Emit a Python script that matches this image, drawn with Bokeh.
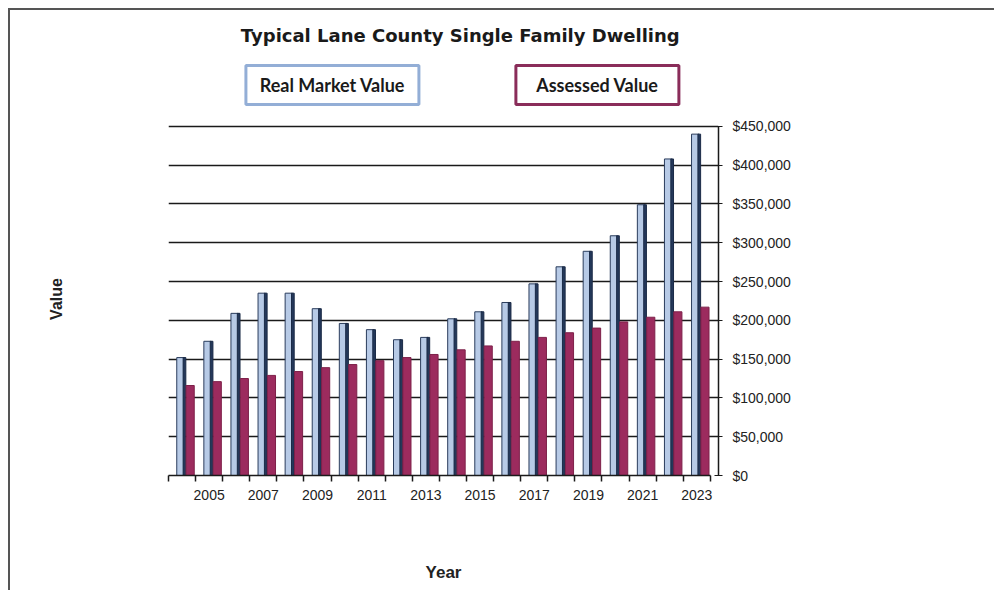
from bokeh.plotting import figure
from bokeh.layouts import column
from bokeh.models import (Range1d, LinearAxis, FixedTicker, NumeralTickFormatter, ColumnDataSource)
from bokeh.core.properties import value
from bokeh.transform import dodge
from bokeh.embed import file_html
from bokeh.resources import INLINE

# ---- data ----
years = list(range(2004, 2024))
real_market_value = [152000, 173000, 209000, 235000, 235000, 215000, 196000, 188000, 175000, 178000,
                     202000, 211000, 223000, 247000, 269000, 289000, 309000, 349000, 408000, 440000]
assessed_value = [116000, 121000, 125000, 129000, 134000, 139000, 143000, 148000, 152000, 156000,
                  162000, 167000, 173000, 178000, 184000, 190000, 198000, 204000, 211000, 217000]
series_names = ["Real Market Value", "Assessed Value"]
title_text = "Typical Lane County Single Family Dwelling"
label_years = [y for y in years if y % 2 == 1]
y_ticks = [0, 50000, 100000, 150000, 200000, 250000, 300000, 350000, 400000, 450000]

# ---- layout constants ----
W = 984
HEAD_H, MAIN_H = 102, 478
TOP_PAD = 10
BL, BR = 158, W - 708
TITLE_X, TITLE_Y = 2014.27, 0.755
LEG_X = [2009.55, 2019.33]
LEG_Y = 0.27
LEG_W = [173, 163]

FONT = "Liberation Sans"

src = ColumnDataSource(dict(year=years, rmv=real_market_value, av=assessed_value))
xr = Range1d(years[0] - 0.5, years[-1] + 0.8)

# ---------------- header (title + legend) ----------------
h = figure(width=W, height=HEAD_H, output_backend="svg", toolbar_location=None,
           x_range=xr, y_range=Range1d(0, 1),
           min_border_left=BL, min_border_right=BR, min_border_top=0, min_border_bottom=0,
           x_axis_location=None, y_axis_location=None)
h.grid.visible = False
h.outline_line_color = None
h.background_fill_color = "white"
h.border_fill_color = "white"
h.text(x=[TITLE_X], y=[TITLE_Y], text=[title_text], text_align="center", text_baseline="middle",
       text_font=value("DejaVu Sans"), text_font_style="bold", text_font_size="18px",
       text_color="#1a1a1a")
leg_cols = ["#93AED6", "#8A2D5A"]
h.rect(x=LEG_X, y=[LEG_Y, LEG_Y], width=LEG_W, height=[39, 39],
       width_units="screen", height_units="screen",
       fill_color="white", line_color=leg_cols, line_width=3)
h.text(x=LEG_X, y=[LEG_Y, LEG_Y], text=series_names, text_align="center", text_baseline="middle",
       text_font=value("Lato"), text_font_style="bold", text_font_size="18px", text_color="#1a1a1a")

# ---------------- main chart ----------------
p = figure(width=W, height=MAIN_H, output_backend="svg", toolbar_location=None,
           x_range=xr, y_range=Range1d(0, 455000),
           min_border_left=BL, min_border_right=BR, min_border_top=TOP_PAD,
           min_border_bottom=10 + HEAD_H + MAIN_H - 475,
           x_axis_location=None, y_axis_location=None)
p.outline_line_color = None
p.background_fill_color = "white"
p.border_fill_color = "white"

p.xgrid.visible = False
p.ygrid.grid_line_color = "#1a1a1a"
p.ygrid.grid_line_width = 1.6
p.ygrid.ticker = FixedTicker(ticks=y_ticks)

# bars (3D-ish look)
p.vbar(x=dodge("year", -0.06, range=xr), top="rmv", source=src, width=0.27, bottom=0,
       fill_color="#B7CAE6", line_color="#2A3C5C", line_width=1)
p.vbar(x=dodge("year", 0.09, range=xr), top="rmv", source=src, width=0.1, bottom=0,
       fill_color="#24385A", line_color="#1B2B47", line_width=1)
p.vbar(x=dodge("year", 0.30, range=xr), top="av", source=src, width=0.30, bottom=0,
       fill_color="#9C2B5E", line_color="#7D2049", line_width=1)

# right axis
ry = LinearAxis(ticker=FixedTicker(ticks=y_ticks), formatter=NumeralTickFormatter(format="$0,0"),
                bounds=(y_ticks[0], y_ticks[-1]))
ry.axis_line_color = "#1a1a1a"
ry.axis_line_width = 1.5
ry.major_tick_line_color = "#1a1a1a"
ry.major_tick_in = 4
ry.major_tick_out = 4
ry.minor_tick_line_color = None
ry.major_label_text_font = FONT
ry.major_label_text_font_size = "14px"
ry.major_label_text_color = "#222222"
ry.major_label_standoff = 10
p.add_layout(ry, "right")

# left axis: label only
ly = LinearAxis(ticker=FixedTicker(ticks=[]), axis_label="Value")
ly.axis_line_color = None
ly.major_tick_line_color = None
ly.minor_tick_line_color = None
ly.axis_label_text_font = FONT
ly.axis_label_text_font_style = "bold"
ly.axis_label_text_font_size = "16px"
ly.axis_label_text_color = "#222222"
ly.axis_label_standoff = 104
p.add_layout(ly, "left")

# bottom axis
bx = LinearAxis(ticker=FixedTicker(ticks=label_years,
                                   minor_ticks=[y - 0.5 for y in years] + [years[-1] + 0.5]),
                axis_label="Year", bounds=(years[0] - 0.5, years[-1] + 0.5))
bx.axis_line_color = "#1a1a1a"
bx.axis_line_width = 1.5
bx.major_tick_line_color = None
bx.minor_tick_line_color = "#1a1a1a"
bx.minor_tick_line_width = 1.5
bx.minor_tick_in = 0
bx.minor_tick_out = 6
bx.major_label_text_font = FONT
bx.major_label_text_font_size = "14px"
bx.major_label_text_color = "#222222"
bx.major_label_standoff = 8
bx.axis_label_text_font = FONT
bx.axis_label_text_font_style = "bold"
bx.axis_label_text_font_size = "17px"
bx.axis_label_text_color = "#222222"
bx.axis_label_standoff = 60
p.add_layout(bx, "below")

layout = column(h, p, spacing=0,
                styles={"border-left": "2px solid #555555", "border-top": "2px solid #555555"})
layout.margin = (8, 0, 0, 8)

open("out.html", "w").write(file_html(layout, INLINE))
